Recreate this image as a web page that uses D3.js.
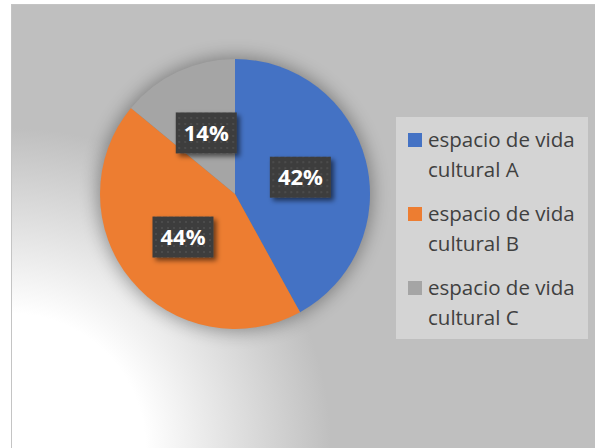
<html>
<head>
  <script type="text/javascript" src="https://cdn.jsdelivr.net/npm/d3@7/dist/d3.min.js"></script>
  <style>
  body { margin: 0; background: #fff; }
  svg { display: block; }
  </style>
</head>
<body>
<script type="text/javascript">
// chart data
var categories = ["espacio de vida cultural A", "espacio de vida cultural B", "espacio de vida cultural C"];
var values = [42, 44, 14];
var pctLabels = ["42%", "44%", "14%"];
var legendLines = [["espacio de vida", "cultural A"], ["espacio de vida", "cultural B"], ["espacio de vida", "cultural C"]];
var colors = ["#4472c4", "#ed7d31", "#a5a5a5"];

var W = 595, H = 448;
var svg = d3.select("body").append("svg").attr("width", W).attr("height", H);
var defs = svg.append("defs");

// background gradient, white in the bottom left corner
var bg = defs.append("radialGradient").attr("id", "bg")
  .attr("gradientUnits", "userSpaceOnUse")
  .attr("cx", 11).attr("cy", 448).attr("r", 320)
  .attr("fx", 11).attr("fy", 448);
bg.append("stop").attr("offset", 0.42).attr("stop-color", "#ffffff");
bg.append("stop").attr("offset", 1).attr("stop-color", "#bfbfbf");

var pieShadow = defs.append("filter").attr("id", "pieShadow")
  .attr("x", "-30%").attr("y", "-30%").attr("width", "160%").attr("height", "160%");
pieShadow.append("feGaussianBlur").attr("stdDeviation", 9);

var boxShadow = defs.append("filter").attr("id", "boxShadow")
  .attr("x", "-20%").attr("y", "-20%").attr("width", "150%").attr("height", "150%");
boxShadow.append("feDropShadow").attr("dx", 3).attr("dy", 3).attr("stdDeviation", 2.5)
  .attr("flood-color", "#000").attr("flood-opacity", 0.55);

// dotted texture for the label boxes
var pat = defs.append("pattern").attr("id", "dots")
  .attr("patternUnits", "userSpaceOnUse").attr("width", 6).attr("height", 6);
pat.append("rect").attr("width", 6).attr("height", 6).attr("fill", "#3d3d3d");
pat.append("rect").attr("x", 2).attr("y", 2).attr("width", 2).attr("height", 2).attr("fill", "#4c4c4c");

svg.append("rect")
  .attr("x", 11.5).attr("y", 4.5).attr("width", W).attr("height", H)
  .attr("fill", "url(#bg)").attr("stroke", "#c4c4c4").attr("stroke-width", 1);

var cx = 235, cy = 194, R = 135;

var pie = d3.pie().sort(null).value(function(d) { return d; });
var arcs = pie(values);
var arc = d3.arc().innerRadius(0).outerRadius(R);

var g = svg.append("g").attr("transform", "translate(" + cx + "," + cy + ")");

g.append("circle").attr("r", R + 2)
  .attr("fill", "#000").attr("opacity", 0.35)
  .attr("filter", "url(#pieShadow)");

g.selectAll("path.slice")
  .data(arcs)
  .enter().append("path")
  .attr("class", "slice")
  .attr("d", arc)
  .attr("fill", function(d, i) { return colors[i]; });

var bw = 61, bh = 41;
var lab = g.selectAll("g.lab")
  .data(arcs)
  .enter().append("g")
  .attr("class", "lab")
  .attr("transform", function(d) {
    var c = arc.centroid(d);
    return "translate(" + c[0] + "," + c[1] + ")";
  });

lab.append("rect")
  .attr("x", -bw / 2).attr("y", -bh / 2)
  .attr("width", bw).attr("height", bh)
  .attr("fill", "url(#dots)")
  .attr("filter", "url(#boxShadow)");

lab.append("text")
  .attr("text-anchor", "middle")
  .attr("y", 8)
  .attr("font-family", "'Open Sans', sans-serif")
  .attr("font-weight", "bold")
  .attr("font-size", 22)
  .attr("fill", "#fff")
  .text(function(d, i) { return pctLabels[i]; });

// legend
var leg = svg.append("g");
leg.append("rect")
  .attr("x", 396).attr("y", 117).attr("width", 192).attr("height", 222)
  .attr("fill", "#d4d4d4");

var item = leg.selectAll("g.item")
  .data(categories)
  .enter().append("g")
  .attr("class", "item")
  .attr("transform", function(d, i) { return "translate(408," + (133 + i * 74) + ")"; });

item.append("rect")
  .attr("width", 14).attr("height", 14)
  .attr("fill", function(d, i) { return colors[i]; });

item.each(function(d, i) {
  var t = d3.select(this).append("text")
    .attr("font-family", "'Open Sans', sans-serif")
    .attr("font-size", 20.5)
    .attr("fill", "#404040");
  legendLines[i].forEach(function(line, k) {
    t.append("tspan").attr("x", 20).attr("y", 14 + k * 30).text(line);
  });
});
</script>
</body>
</html>
